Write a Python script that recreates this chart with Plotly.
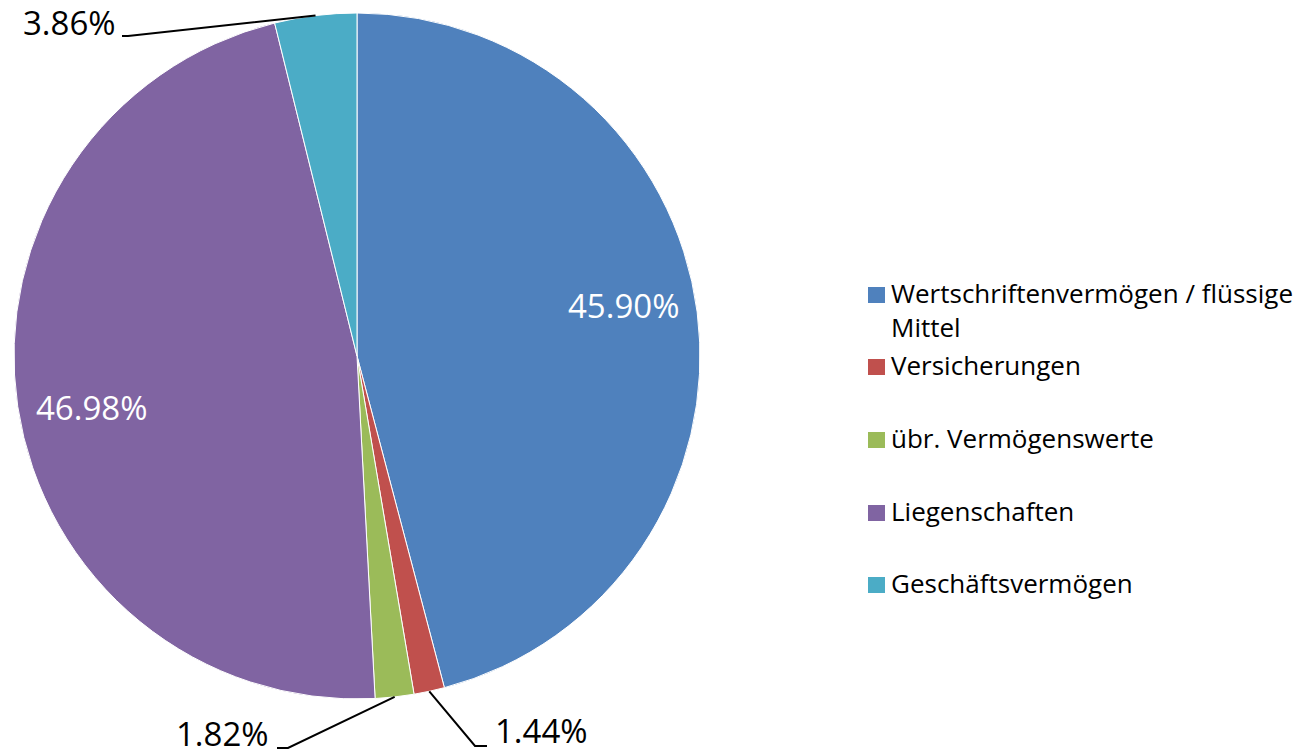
import math
import plotly.graph_objects as go

W, H = 1298, 755

categories = ["Wertschriftenvermögen / flüssige<br>Mittel", "Versicherungen",
              "übr. Vermögenswerte", "Liegenschaften", "Geschäftsvermögen"]
values = [45.90, 1.44, 1.82, 46.98, 3.86]
labels = ["45.90%", "1.44%", "1.82%", "46.98%", "3.86%"]
colors = ["#4F81BD", "#C0504D", "#9BBB59", "#8064A2", "#4BACC6"]

FONT = "Open Sans"
LABEL_SIZE = 33
LEG_SIZE = 26
cx, cy, R = 357, 356, 343


def px(x):
    return x / W


def py(y):
    return 1 - y / H


fig = go.Figure()
fig.add_trace(go.Pie(
    values=values, labels=categories, sort=False, direction="clockwise",
    rotation=0, textinfo="none", hoverinfo="label+percent",
    marker=dict(colors=colors, line=dict(color="white", width=1)),
    domain=dict(x=[px(cx - R), px(cx + R)], y=[py(cy + R), py(cy - R)]),
    showlegend=False,
))

total = sum(values)
cum = 0
mids = []
for v in values:
    mid = cum + v / 2
    cum += v
    mids.append(math.radians(90 - 360 * mid / total))

annotations = []
shapes = []

# leader line layout for small slices (pixels)
leader = {
    1: dict(elbow=(475, 746), end=(487, 746), tx=493, ty=732, side="left"),
    2: dict(elbow=(288, 748), end=(277, 748), tx=271, ty=735, side="right"),
    4: dict(elbow=(128, 36), end=(122, 36), tx=118, ty=24, side="right"),
}
CAP_SHIFT = 2  # cap-centre sits slightly below the text box middle
for i, (lab, ang) in enumerate(zip(labels, mids)):
    if values[i] > 10:
        a = ang + math.radians(3)
        r = 0.79 * R
        x = cx + r * math.cos(a)
        y = cy - r * math.sin(a)
        annotations.append(dict(
            x=px(x), y=py(y - CAP_SHIFT), xref="paper", yref="paper", text=lab,
            showarrow=False, font=dict(family=FONT, size=LABEL_SIZE, color="white"),
            xanchor="center", yanchor="middle"))
    else:
        sx = cx + R * math.cos(ang)
        sy = cy - R * math.sin(ang)
        ld = leader[i]
        ex, ey = ld["elbow"]
        tx, ty = ld["end"]
        shapes.append(dict(
            type="path", xref="paper", yref="paper",
            path=f"M {px(sx)} {py(sy)} L {px(ex)} {py(ey)} L {px(tx)} {py(ty)}",
            line=dict(color="black", width=2)))
        annotations.append(dict(
            x=px(ld["tx"]), y=py(ld["ty"] - CAP_SHIFT), xref="paper", yref="paper",
            text=lab, showarrow=False,
            font=dict(family=FONT, size=LABEL_SIZE, color="black"),
            xanchor="left" if ld["side"] == "left" else "right", yanchor="middle"))

# legend (manual), cap-centre y of first line of each entry
leg_y = [294, 366, 439, 512, 584]
for i, (cat, col) in enumerate(zip(categories, colors)):
    y = leg_y[i]
    shapes.append(dict(type="rect", xref="paper", yref="paper",
                       x0=px(868), x1=px(885), y0=py(y - 7), y1=py(y + 9),
                       fillcolor=col, line=dict(width=0)))
    annotations.append(dict(
        x=px(889), y=py(y - 21), xref="paper", yref="paper", text=cat,
        showarrow=False, align="left",
        font=dict(family=FONT, size=LEG_SIZE, color="black"),
        xanchor="left", yanchor="top"))

fig.update_layout(
    width=W, height=H, margin=dict(l=0, r=0, t=0, b=0),
    paper_bgcolor="white", plot_bgcolor="white",
    annotations=annotations, shapes=shapes, showlegend=False,
)
fig.write_html(
    "out.html",
    config={"displayModeBar": False},
    post_script="document.body.style.margin='0';document.body.style.overflow='hidden';",
)
